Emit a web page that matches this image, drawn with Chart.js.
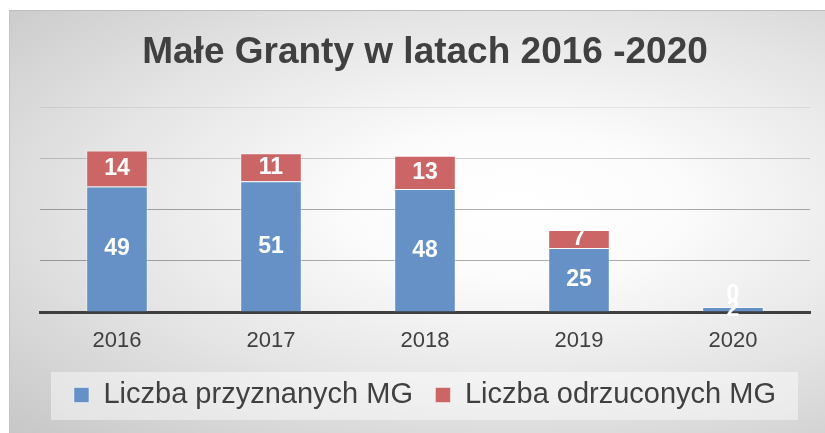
<!DOCTYPE html>
<html>
<head>
<meta charset="utf-8">
<script src="https://cdn.jsdelivr.net/npm/chart.js@4.4.1/dist/chart.umd.min.js"></script>
<style>
  html, body { margin: 0; padding: 0; background: #ffffff; width: 825px; height: 433px; overflow: hidden; }
  #bg {
    position: absolute; left: 9px; top: 10px; width: 816px; height: 423px; box-sizing: border-box;
    border-top: 1px solid #bdbdbd; border-left: 1px solid #c4c4c4;
    background: radial-gradient(ellipse farthest-corner at 62% 46%, #ffffff 0%, #fcfcfc 22%, #e4e4e4 60%, #c7c7c7 100%);
  }
  #wrap { position: absolute; left: 0; top: 0; width: 825px; height: 433px; }
</style>
</head>
<body>
<div id="bg"></div>
<div id="wrap"><canvas id="chart"></canvas></div>
<script>
const titleText = 'Małe Granty w latach 2016 -2020';
const categories = ['2016', '2017', '2018', '2019', '2020'];
const seriesNames = ['Liczba przyznanych MG', 'Liczba odrzuconych MG'];
const granted = [49, 51, 48, 25, 2];
const rejected = [14, 11, 13, 7, 0];
const yTicks = [0, 20, 40, 60, 80];

const FONT = '"Liberation Sans", Arial, sans-serif';
const TEXT = '#404040';

const legendPanel = {
  id: 'legendPanel',
  beforeDraw(chart) {
    const l = chart.legend;
    if (!l) return;
    const ctx = chart.ctx;
    ctx.save();
    ctx.fillStyle = 'rgba(255,255,255,0.45)';
    ctx.fillRect(51, l.top + 14, 747, 48);
    ctx.restore();
  }
};

const valueLabels = {
  id: 'valueLabels',
  afterDatasetsDraw(chart) {
    const ctx = chart.ctx;
    ctx.save();
    ctx.font = 'bold 23px ' + FONT;
    ctx.fillStyle = '#ffffff';
    ctx.textAlign = 'center';
    ctx.textBaseline = 'middle';
    chart.data.datasets.forEach((ds, di) => {
      const meta = chart.getDatasetMeta(di);
      meta.data.forEach((bar, i) => {
        const v = ds.data[i];
        const p = bar.getProps(['x', 'y', 'base'], true);
        let cy = (p.y + p.base) / 2;
        if (v === 0) cy -= 12;
        ctx.fillText(String(v), p.x, cy);
      });
    });
    ctx.restore();
  }
};

new Chart(document.getElementById('chart'), {
  type: 'bar',
  data: {
    labels: categories,
    datasets: [
      {
        label: seriesNames[0], data: granted,
        backgroundColor: '#6591c6', borderColor: 'rgba(255,255,255,0.45)', borderWidth: 1,
        categoryPercentage: 1, barPercentage: 0.4
      },
      {
        label: seriesNames[1], data: rejected,
        backgroundColor: '#cc6565', borderColor: 'rgba(255,255,255,0.45)', borderWidth: 1,
        categoryPercentage: 1, barPercentage: 0.4
      }
    ]
  },
  options: {
    responsive: true,
    maintainAspectRatio: false,
    animation: false,
    layout: { padding: { top: 0, left: 40, right: 15, bottom: 13.5 } },
    plugins: {
      title: {
        display: true, text: titleText, color: TEXT,
        font: { family: FONT, size: 37, weight: 'bold', lineHeight: 1.2 },
        padding: { top: 30.8, bottom: 31.8 }
      },
      legend: {
        position: 'bottom',
        labels: {
          color: TEXT, boxWidth: 15, boxHeight: 15, padding: 22.5,
          font: { family: FONT, size: 29 }
        }
      },
      tooltip: { enabled: false }
    },
    scales: {
      x: {
        stacked: true,
        z: 1,
        grid: { display: false, drawTicks: false },
        border: { display: true, color: '#3f3f3f', width: 3 },
        ticks: { color: TEXT, padding: 16, font: { family: FONT, size: 22 } },
        afterFit(scale) { scale.height = 46; }
      },
      y: {
        stacked: true,
        min: yTicks[0], max: yTicks[yTicks.length - 1],
        afterBuildTicks(scale) { scale.ticks = yTicks.map(v => ({ value: v })); },
        ticks: { display: false },
        border: { display: false },
        grid: {
          drawTicks: false,
          lineWidth: 1,
          color(ctx) {
            const v = ctx.tick && ctx.tick.value;
            if (v === 80) return 'rgba(0,0,0,0.07)';
            if (v === 60) return 'rgba(0,0,0,0.18)';
            return 'rgba(0,0,0,0.32)';
          }
        }
      }
    }
  },
  plugins: [legendPanel, valueLabels]
});
</script>
</body>
</html>
